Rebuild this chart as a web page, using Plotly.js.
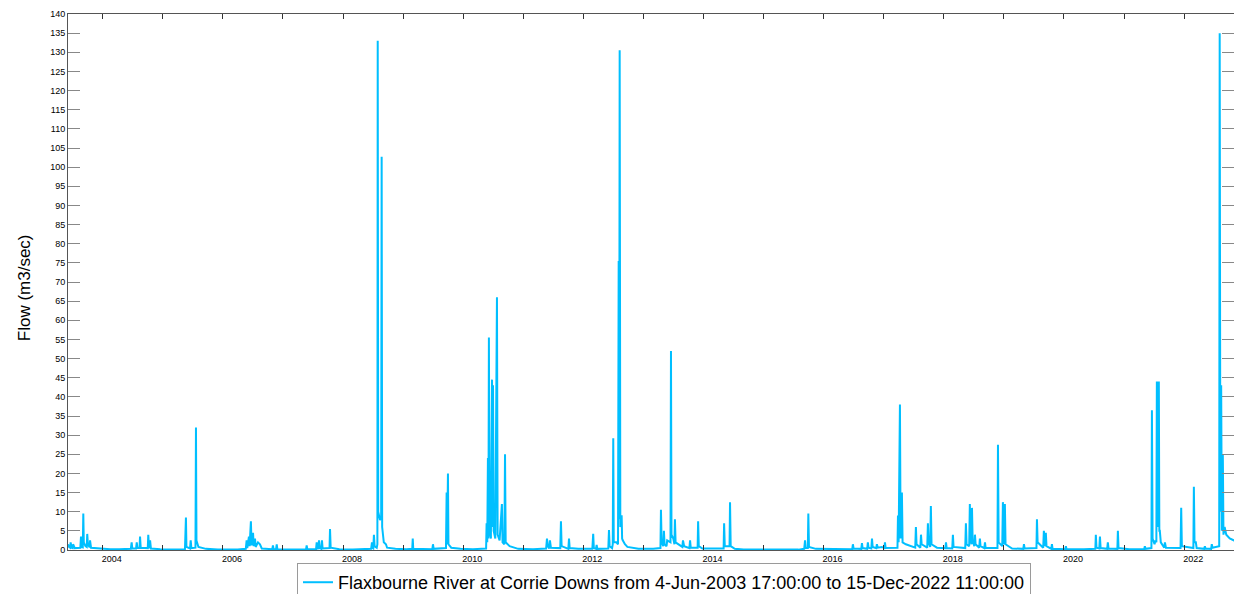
<!DOCTYPE html>
<html>
<head>
<meta charset="utf-8">
<script src="https://cdn.plot.ly/plotly-3.0.1.min.js"></script>
<style>html,body{margin:0;padding:0;background:#fff;}#chart{width:1234px;height:594px;}</style>
</head>
<body>
<div id="chart"></div>
<script>
// Flow series (m3/sec) (one line per year)
var dates = [
 '2003-06-04','2003-06-10','2003-06-17','2003-06-20','2003-06-26','2003-07-02','2003-07-05','2003-07-15','2003-08-18','2003-08-22','2003-08-26','2003-09-02','2003-09-05','2003-09-08','2003-09-18','2003-09-26','2003-09-29','2003-10-03','2003-10-13','2003-10-16','2003-10-22','2003-11-21','2003-12-20',
 '2004-02-15','2004-04-10','2004-06-20','2004-06-25','2004-06-29','2004-07-22','2004-07-26','2004-07-30','2004-08-12','2004-08-15','2004-08-19','2004-10-01','2004-10-04','2004-10-08','2004-10-12','2004-10-15','2004-10-20','2004-12-15',
 '2005-03-01','2005-05-15','2005-05-21','2005-05-24','2005-06-15','2005-06-19','2005-06-23','2005-07-18','2005-07-21','2005-07-24','2005-08-05','2005-09-20','2005-12-01',
 '2006-04-01','2006-05-20','2006-05-25','2006-05-29','2006-06-08','2006-06-12','2006-06-20','2006-06-24','2006-07-03','2006-07-07','2006-07-15','2006-07-19','2006-08-02','2006-08-14','2006-08-25','2006-10-28','2006-11-01','2006-11-05','2006-11-20','2006-11-24','2006-11-28',
 '2007-03-01','2007-05-21','2007-05-25','2007-05-29','2007-07-21','2007-07-25','2007-07-29','2007-08-04','2007-08-08','2007-08-12','2007-08-22','2007-08-26','2007-08-30','2007-10-11','2007-10-14','2007-10-18','2007-12-10',
 '2008-03-01','2008-06-20','2008-06-25','2008-06-29','2008-07-03','2008-07-07','2008-07-11','2008-07-24','2008-07-28','2008-07-30','2008-08-02','2008-08-13','2008-08-20','2008-08-23','2008-08-26','2008-09-05','2008-09-18','2008-09-25','2008-11-15',
 '2009-01-20','2009-02-25','2009-02-28','2009-03-03','2009-06-27','2009-07-01','2009-07-05','2009-09-18','2009-09-22','2009-09-25','2009-09-30','2009-10-03','2009-10-20','2009-12-15',
 '2010-03-01','2010-05-20','2010-05-23','2010-05-27','2010-05-31','2010-06-03','2010-06-06','2010-06-10','2010-06-18','2010-06-25','2010-06-28','2010-07-01','2010-07-05','2010-07-15','2010-07-25','2010-07-29','2010-08-10','2010-08-24','2010-08-28','2010-09-08','2010-09-12','2010-09-16','2010-10-10','2010-12-01',
 '2011-03-01','2011-05-20','2011-05-25','2011-05-30','2011-06-08','2011-06-12','2011-06-18','2011-08-14','2011-08-18','2011-08-22','2011-10-02','2011-10-06','2011-10-10','2011-12-01',
 '2012-02-25','2012-03-01','2012-03-05','2012-03-18','2012-03-22','2012-03-26','2012-06-01','2012-06-05','2012-06-09','2012-06-24','2012-06-28','2012-07-01','2012-07-04','2012-07-20','2012-07-30','2012-08-03','2012-08-06','2012-08-09','2012-08-13','2012-08-21','2012-08-24','2012-08-27','2012-09-10','2012-09-25','2012-12-01',
 '2013-03-01','2013-04-14','2013-04-17','2013-04-21','2013-05-01','2013-05-05','2013-05-09','2013-05-21','2013-05-25','2013-06-14','2013-06-17','2013-06-20','2013-07-01','2013-07-08','2013-07-11','2013-07-15','2013-08-02','2013-08-25','2013-08-29','2013-09-05','2013-10-07','2013-10-11','2013-10-15','2013-11-26','2013-11-29','2013-12-03','2013-12-25',
 '2014-03-01','2014-05-03','2014-05-06','2014-05-10','2014-06-08','2014-06-11','2014-06-15','2014-07-10','2014-09-01','2014-12-01',
 '2015-04-01','2015-08-01','2015-09-05','2015-09-10','2015-09-14','2015-09-27','2015-09-30','2015-10-04','2015-11-15',
 '2016-03-01','2016-06-23','2016-06-27','2016-07-01','2016-08-17','2016-08-21','2016-08-25','2016-09-22','2016-09-26','2016-09-30','2016-10-17','2016-10-21','2016-10-25','2016-11-16','2016-11-20','2016-11-25','2016-12-20',
 '2017-01-04','2017-01-08','2017-01-12','2017-03-25','2017-03-28','2017-04-01','2017-04-09','2017-04-13','2017-04-21','2017-04-25','2017-05-15','2017-07-11','2017-07-15','2017-07-19','2017-08-11','2017-08-15','2017-08-19','2017-09-22','2017-09-26','2017-09-30','2017-10-10','2017-10-14','2017-10-18','2017-11-20',
 '2018-01-10','2018-01-14','2018-01-18','2018-02-21','2018-02-25','2018-03-01','2018-04-15','2018-05-11','2018-05-15','2018-05-19','2018-06-04','2018-06-08','2018-06-12','2018-06-18','2018-06-21','2018-06-25','2018-07-05','2018-07-09','2018-07-13','2018-08-04','2018-08-08','2018-08-12','2018-09-04','2018-09-08','2018-09-12','2018-11-23','2018-11-26','2018-11-30','2018-12-22','2018-12-26','2018-12-30',
 '2019-01-04','2019-01-07','2019-01-11','2019-02-20','2019-04-29','2019-05-03','2019-05-07','2019-07-18','2019-07-21','2019-07-25','2019-08-28','2019-09-01','2019-09-05','2019-09-10','2019-09-13','2019-09-17','2019-10-16','2019-10-20','2019-10-24','2019-12-15',
 '2020-01-09','2020-01-13','2020-01-17','2020-05-01','2020-07-10','2020-07-13','2020-07-17','2020-08-03','2020-08-07','2020-08-11','2020-09-20','2020-09-24','2020-09-28','2020-11-21','2020-11-24','2020-11-28',
 '2021-02-01','2021-05-03','2021-05-07','2021-05-11','2021-06-16','2021-06-19','2021-06-23','2021-07-05','2021-07-10','2021-07-16','2021-07-19','2021-07-23','2021-07-31','2021-08-03','2021-08-06','2021-08-12','2021-09-02','2021-09-06','2021-09-12','2021-12-10','2021-12-14','2021-12-18',
 '2022-02-26','2022-03-01','2022-03-05','2022-03-13','2022-03-18','2022-05-03','2022-05-07','2022-05-11','2022-06-14','2022-06-18','2022-06-22','2022-08-02','2022-08-05','2022-08-09','2022-08-14','2022-08-18','2022-08-24','2022-08-28','2022-09-04','2022-09-14','2022-10-05','2022-10-31','2022-12-15'
];
var flow = [
 1.5,0.8,0.6,2.0,0.6,0.5,1.5,0.5,0.6,3.5,0.8,0.7,9.5,2.0,1.0,0.8,4.2,1.5,0.7,2.5,0.6,0.5,0.3,
 0.2,0.2,0.3,2.0,0.4,0.4,2.0,0.5,0.5,3.5,0.6,0.5,4.0,1.0,0.5,2.5,0.4,0.2,
 0.1,0.2,8.5,0.8,0.4,2.5,0.5,0.6,32,2.5,0.8,0.3,0.1,
 0.1,0.3,2.5,0.5,3.5,1.0,7.5,1.2,4.5,1.0,3.0,0.8,2.0,1.5,0.4,0.2,1.2,0.2,0.2,1.5,0.2,
 0.1,0.1,1.2,0.2,0.2,2.0,0.5,0.3,2.5,0.5,0.3,2.5,0.4,0.5,5.5,0.6,0.2,
 0.1,0.3,2.0,0.5,0.4,4.0,1.0,0.6,1.5,133,10,7.8,9,102.7,6,2.0,1.5,0.6,0.3,
 0.2,0.3,3.0,0.3,0.2,1.5,0.3,0.5,15,1.5,20,1.5,0.6,0.3,
 0.2,0.4,7,2.0,24,3,55.5,5,3,44.5,6,43,5,3,66,4,2.5,12,2,1.5,25,2,1,0.3,
 0.2,0.4,3.0,1.0,0.4,2.5,0.6,0.5,7.5,1.0,0.3,3.0,0.5,0.3,
 0.3,4.2,0.5,0.3,1.3,0.3,0.4,5.2,1.0,0.5,1.5,29.2,2,2,1.5,75.5,8,130.5,6,9.1,3,2.6,1.5,0.8,0.3,
 0.3,0.5,10.5,2,1.0,5,1.5,1.0,2.5,2,52,4,3,1.5,8,2,1.5,0.8,2.5,1.0,0.5,2.5,0.6,0.6,7.5,1.0,0.4,
 0.3,0.4,7,1,1,12.5,1.0,0.3,0.1,0.05,
 0.05,0.1,0.3,2.5,0.5,0.5,9.5,0.8,0.3,
 0.2,0.2,1.5,0.4,0.3,1.8,0.5,0.3,2.0,0.6,0.4,3.0,0.8,0.5,1.5,0.6,0.8,
 0.5,2.0,0.5,0.6,9,2,38,3,15,2,1.5,0.6,6,1.5,0.6,4,1.5,0.6,7,2,0.8,11.5,1.5,0.6,
 0.5,2,0.5,0.4,4,0.8,0.6,0.5,7,1.5,1.0,12,3,1.5,11,2.5,1.0,4,1.5,0.6,3,1.0,0.5,2,0.5,0.5,27.5,2,1.0,12.5,3,
 1.5,12,1.5,0.4,0.3,1.5,0.4,0.5,8,2,0.6,5,2,1.0,4.5,1.0,0.3,1.5,0.3,0.2,
 0.2,1,0.2,0.2,0.3,4,0.6,0.4,3.5,0.5,0.3,2,0.4,0.3,5,0.5,
 0.2,0.2,1,0.3,0.5,36.5,3,1.5,2.5,2,44,6,44,5,5,2,0.6,2,0.6,0.5,11,1,
 0.5,16.5,2,2,0.5,0.3,1,0.4,0.3,1.5,0.6,1,135,10,43,5,25,4,6,4,3,2.5,2
];
var seriesName = 'Flaxbourne River at Corrie Downs from 4-Jun-2003 17:00:00 to 15-Dec-2022 11:00:00';
var yTitle = 'Flow (m3/sec)';
var tickYears = ['2004','2005','2006','2007','2008','2009','2010','2011','2012','2013','2014','2015','2016','2017','2018','2019','2020','2021','2022'];
var tickLabels = ['2004','','2006','','2008','','2010','','2012','','2014','','2016','','2018','','2020','','2022'];
var yTicks = [0,5,10,15,20,25,30,35,40,45,50,55,60,65,70,75,80,85,90,95,100,105,110,115,120,125,130,135,140];

var trace = {
  x: dates, y: flow, type: 'scatter', mode: 'lines', name: seriesName,
  line: {color: '#00BFFF', width: 2}
};
var layout = {
  width: 1234, height: 594,
  margin: {l: 68, r: 0, t: 14, b: 44, autoexpand: false},
  paper_bgcolor: '#fff', plot_bgcolor: '#fff',
  showlegend: true,
  legend: {
    x: 0.1964, xanchor: 'left', y: -0.0243, yanchor: 'top',
    orientation: 'h', bordercolor: '#9a9a9a', borderwidth: 1, bgcolor: '#fff',
    font: {family: 'Liberation Sans Narrow, Arial Narrow, Liberation Sans, sans-serif', size: 18, color: '#000'}
  },
  xaxis: {
    type: 'date', range: ['2003-06-04', '2022-10-31'], automargin: false,
    tickmode: 'array', tickvals: tickYears.map(function(y){return y + '-01-01';}), ticktext: tickLabels,
    ticks: 'inside', ticklen: 5, tickcolor: '#333', tickwidth: 1,
    showline: true, linecolor: '#555', linewidth: 1, mirror: 'ticks',
    showgrid: false, zeroline: false, ticklabelshift: 9,
    tickfont: {family: 'Liberation Sans, Arial, sans-serif', size: 9, color: '#000'}
  },
  yaxis: {
    range: [0, 140], tickmode: 'array', tickvals: yTicks, automargin: false,
    ticks: 'inside', ticklen: 12, tickcolor: '#888', tickwidth: 1,
    showline: true, linecolor: '#555', linewidth: 1, mirror: 'ticks',
    showgrid: false, zeroline: false,
    tickfont: {family: 'Liberation Sans, Arial, sans-serif', size: 9, color: '#000'}
  },
  annotations: [{
    text: yTitle, xref: 'paper', yref: 'paper', x: -0.037, y: 0.49,
    xanchor: 'center', yanchor: 'middle', textangle: -90, showarrow: false,
    font: {family: 'Liberation Sans Narrow, Arial Narrow, Liberation Sans, sans-serif', size: 17, color: '#000'}
  }]
};
Plotly.newPlot('chart', [trace], layout, {staticPlot: true, displayModeBar: false});
</script>
</body>
</html>
